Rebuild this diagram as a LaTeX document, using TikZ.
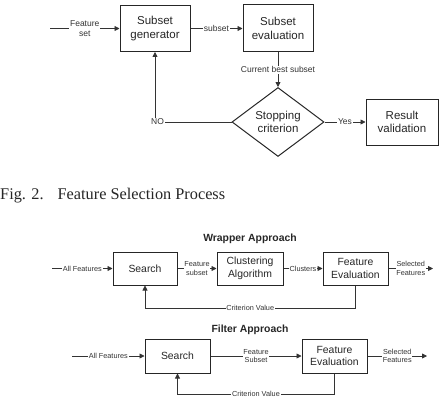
\documentclass[tikz,border=0pt]{standalone}
\usepackage{fontspec}
\setmainfont{Liberation Sans}
\newfontfamily\capfont{Liberation Serif}
\usetikzlibrary{shapes.geometric,arrows.meta}
\begin{document}
\begin{tikzpicture}[x=1pt,y=-1pt,
  box/.style={draw=black!85,line width=1pt,inner sep=0pt,align=center,text=black!85},
  big/.style={font=\fontsize{11.5}{13.5}\selectfont},
  mid/.style={font=\fontsize{10.4}{12.5}\selectfont},
  lbl/.style={fill=white,inner sep=0.8pt,align=center,text=black!80,font=\fontsize{8.5}{10}\selectfont},
  slbl/.style={fill=white,inner sep=0.8pt,align=center,text=black!80,font=\fontsize{7.3}{8.5}\selectfont},
  ttl/.style={font=\bfseries\fontsize{10.4}{12}\selectfont,text=black!85},
  conn/.style={draw=black!80,line width=0.75pt},
  arr/.style={conn,-{Triangle[length=5pt,width=5pt]}},
]
\useasboundingbox (0,0) rectangle (447,412);
% ---------- top diagram ----------
\coordinate (in) at (50,28.5);
\node[box,big,minimum width=70pt,minimum height=46pt] (gen) at (155,28.5) {Subset\\generator};
\node[box,big,minimum width=70pt,minimum height=47pt] (eval) at (278,28.5) {Subset\\evaluation};
\node[box,big,shape=diamond,minimum width=92pt,minimum height=69pt] (stop) at (278,122) {Stopping\\criterion};
\node[box,big,minimum width=72pt,minimum height=46pt] (res) at (402,122) {Result\\validation};
\draw[arr] (in) -- node[lbl]{Feature\\set} (gen.west);
\draw[arr] (gen.east) -- node[lbl]{subset} (eval.west);
\draw[arr] (eval.south) -- node[lbl]{Current best subset} (stop.north);
\draw[arr] (stop.east) -- node[lbl]{Yes} (res.west);
\draw[arr] (stop.west) -| node[lbl,pos=0.5,xshift=2.5pt]{NO} (gen.south);
% ---------- caption ----------
\node[anchor=west,inner sep=0pt,font=\capfont\fontsize{16.3}{18}\selectfont,text=black!85] (cap) at (0,196) {Fig. 2.\hspace{14pt}Feature Selection Process};
% ---------- wrapper ----------
\node[ttl] (t1) at (250,239) {Wrapper Approach};
\coordinate (a1) at (52,268.5);
\coordinate (o1) at (433,268.5);
\node[box,mid,minimum width=64pt,minimum height=33pt] (s1) at (145,268.5) {Search};
\node[box,mid,minimum width=66pt,minimum height=33pt] (cl) at (250,268.5) {Clustering\\Algorithm};
\node[box,mid,minimum width=65pt,minimum height=33pt] (fe1) at (355.5,268.5) {Feature\\Evaluation};
\draw[arr] (a1) -- node[slbl]{All Features} (s1.west);
\draw[arr] (s1.east) -- node[slbl]{Feature\\subset} (cl.west);
\draw[arr] (cl.east) -- node[slbl]{Clusters} (fe1.west);
\draw[arr] (fe1.east) -- node[slbl]{Selected\\Features} (o1);
\draw[arr] (fe1.south) -- (fe1.south |- 0,308) -| node[slbl,pos=0.25]{Criterion Value} (s1.south);
% ---------- filter ----------
\node[ttl] (t2) at (250,330) {Filter Approach};
\coordinate (a2) at (72,356);
\coordinate (o2) at (427,356);
\node[box,mid,minimum width=65pt,minimum height=34pt] (s2) at (177.5,356) {Search};
\node[box,mid,minimum width=65pt,minimum height=34pt] (fe2) at (334.5,356) {Feature\\Evaluation};
\draw[arr] (a2) -- node[slbl]{All Features} (s2.west);
\draw[arr] (s2.east) -- node[slbl]{Feature\\Subset} (fe2.west);
\draw[arr] (fe2.east) -- node[slbl]{Selected\\Features} (o2);
\draw[arr] (fe2.south) -- (fe2.south |- 0,394) -| node[slbl,pos=0.25]{Criterion Value} (s2.south);
\end{tikzpicture}
\end{document}
